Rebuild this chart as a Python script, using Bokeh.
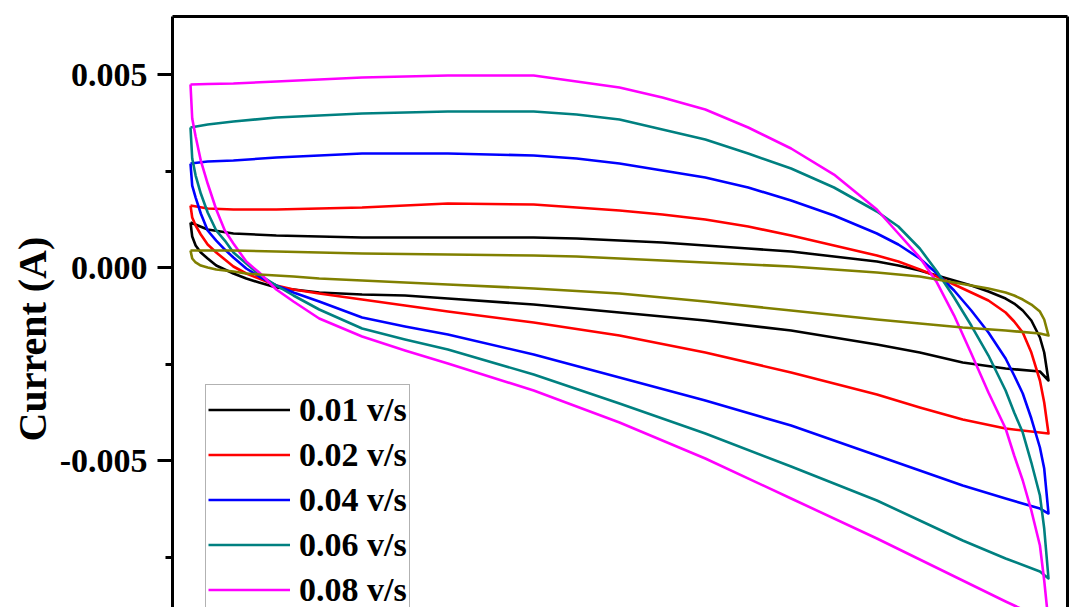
from bokeh.plotting import figure
from bokeh.models import (Range1d, LinearAxis, FixedTicker, NumeralTickFormatter, Legend,
                          LegendItem, Title)
from bokeh.embed import file_html
from bokeh.resources import INLINE

# Potential (V) sampling of the forward (upper) and reverse (lower) branches
potential_up = [0, 0.02, 0.05, 0.1, 0.15, 0.2, 0.3, 0.4, 0.45, 0.5, 0.55, 0.6, 0.65, 0.7, 0.75,
                0.8, 0.825, 0.85, 0.87, 0.89, 0.91, 0.93, 0.95, 0.96, 0.97, 0.98, 0.99, 0.995, 1.0]
potential_down = [1.0, 0.99, 0.95, 0.9, 0.85, 0.8, 0.7, 0.6, 0.5, 0.4, 0.3, 0.25, 0.2, 0.15,
                  0.12, 0.1, 0.08, 0.065, 0.05, 0.04, 0.03, 0.02, 0.012, 0.006, 0.002, 0]

# Currents in mA
up_001 = [1.166, 0.984, 0.881, 0.829, 0.803, 0.777, 0.777, 0.777, 0.751, 0.699, 0.648, 0.570,
          0.492, 0.415, 0.285, 0.155, 0.052, -0.078, -0.207, -0.337, -0.466, -0.622, -0.803,
          -0.933, -1.114, -1.373, -1.813, -2.202, -2.927]
down_001 = [-2.927, -2.694, -2.617, -2.461, -2.202, -1.995, -1.632, -1.373, -1.166, -0.959,
            -0.803, -0.725, -0.699, -0.648, -0.570, -0.518, -0.389, -0.285, -0.155, -0.052,
            0.052, 0.233, 0.389, 0.570, 0.803, 1.166]
up_002 = [1.606, 1.528, 1.503, 1.503, 1.528, 1.554, 1.658, 1.632, 1.554, 1.477, 1.373, 1.244,
          1.062, 0.829, 0.570, 0.311, 0.155, -0.052, -0.233, -0.440, -0.648, -0.855, -1.166,
          -1.399, -1.684, -2.202, -2.927, -3.497, -4.301]
down_002 = [-4.301, -4.275, -4.171, -3.938, -3.627, -3.290, -2.720, -2.202, -1.762, -1.425,
            -1.140, -0.984, -0.829, -0.674, -0.570, -0.466, -0.285, -0.155, 0.026, 0.207,
            0.389, 0.596, 0.855, 1.088, 1.295, 1.606]
up_004 = [2.694, 2.746, 2.772, 2.850, 2.902, 2.953, 2.953, 2.902, 2.824, 2.694, 2.513, 2.332,
          2.073, 1.736, 1.347, 0.881, 0.596, 0.233, -0.155, -0.596, -1.114, -1.684, -2.358,
          -2.798, -3.264, -3.912, -4.663, -5.207, -6.373]
down_004 = [-6.373, -6.244, -5.984, -5.648, -5.259, -4.870, -4.093, -3.446, -2.850, -2.254,
            -1.736, -1.528, -1.295, -0.881, -0.648, -0.466, -0.233, -0.026, 0.259, 0.466,
            0.699, 0.959, 1.399, 1.813, 2.124, 2.694]
up_006 = [3.627, 3.705, 3.782, 3.886, 3.938, 3.990, 4.041, 4.041, 3.964, 3.834, 3.575, 3.316,
          2.953, 2.565, 2.073, 1.451, 1.062, 0.492, -0.104, -0.777, -1.503, -2.280, -3.187,
          -3.756, -4.275, -5.052, -5.907, -6.762, -8.057]
down_006 = [-8.057, -7.876, -7.539, -7.073, -6.554, -6.036, -5.155, -4.301, -3.523, -2.772,
            -2.124, -1.865, -1.580, -1.088, -0.725, -0.466, -0.181, 0.104, 0.389, 0.699,
            0.959, 1.425, 1.917, 2.383, 2.824, 3.627]
up_008 = [4.741, 4.754, 4.767, 4.819, 4.870, 4.922, 4.974, 4.974, 4.819, 4.663, 4.404, 4.093,
          3.627, 3.083, 2.409, 1.503, 0.881, 0.259, -0.389, -1.244, -2.228, -3.238, -4.171,
          -4.870, -5.518, -6.295, -7.202, -8.109, -9.197]
down_008 = [-9.197, -9.067, -8.653, -8.109, -7.565, -7.021, -5.984, -4.948, -4.016, -3.187,
            -2.487, -2.150, -1.788, -1.321, -0.881, -0.570, -0.130, 0.155, 0.622, 0.959,
            1.503, 2.176, 2.772, 3.394, 3.860, 4.741]
up_olive = [0.440, 0.440, 0.440, 0.415, 0.389, 0.363, 0.337, 0.311, 0.285, 0.233, 0.181, 0.130,
            0.078, 0.026, -0.052, -0.130, -0.181, -0.233, -0.311, -0.389, -0.466, -0.544,
            -0.648, -0.725, -0.829, -0.959, -1.140, -1.347, -1.762]
down_olive = [-1.762, -1.710, -1.632, -1.554, -1.451, -1.347, -1.114, -0.881, -0.674, -0.544,
              -0.440, -0.389, -0.337, -0.285, -0.233, -0.207, -0.181, -0.155, -0.104, -0.078,
              -0.052, 0.0, 0.052, 0.130, 0.233, 0.440]

labels = ["0.01 v/s", "0.02 v/s", "0.04 v/s", "0.06 v/s", "0.08 v/s", None]
colors = ["#000000", "#FF0000", "#0000FF", "#008080", "#FF00FF", "#808000"]
ups = [up_001, up_002, up_004, up_006, up_008, up_olive]
downs = [down_001, down_002, down_004, down_006, down_008, down_olive]

y_ticks = [-0.005, 0.0, 0.005]
y_minor = [-0.0075, -0.0025, 0.0025]
y_title = "Current (A)"

FONT = "Liberation Serif"

p = figure(width=1080, height=607, output_backend="svg", toolbar_location=None,
           x_axis_location=None, y_axis_location="left",
           x_range=Range1d(-0.02098, 1.02214), y_range=Range1d(-0.008808, 0.006503),
           min_border_left=172, min_border_right=13, min_border_top=16, min_border_bottom=0)
p.background_fill_color = "white"
p.border_fill_color = "white"
p.outline_line_color = None
p.grid.visible = False

ax = p.yaxis[0]
ax.ticker = FixedTicker(ticks=y_ticks, minor_ticks=y_minor)
ax.formatter = NumeralTickFormatter(format="0.000")
ax.major_label_text_font = FONT
ax.major_label_text_font_style = "bold"
ax.major_label_text_font_size = "34px"
ax.major_label_text_color = "black"
ax.major_label_standoff = 10
ax.axis_line_width = 3
ax.major_tick_line_width = 3
ax.minor_tick_line_width = 3
ax.major_tick_in = 0
ax.major_tick_out = 15
ax.minor_tick_in = 0
ax.minor_tick_out = 7

for loc in ["above", "right"]:
    a = LinearAxis(ticker=FixedTicker(ticks=[]), axis_line_width=3,
                   major_tick_in=0, major_tick_out=0, minor_tick_in=0, minor_tick_out=0,
                   major_label_text_font_size="0px")
    p.add_layout(a, loc)

# y-axis title; the original figure is cropped, so it sits below the visible frame centre
p.add_layout(Title(text=y_title, align="left", offset=166, standoff=4,
                   text_font=FONT, text_font_style="bold", text_font_size="40px",
                   text_color="black"), "left")

items = []
for up, dn, c, lab in zip(ups, downs, colors, labels):
    xs = potential_up + potential_down
    ys = [v / 1000.0 for v in up + dn]
    r = p.line(xs, ys, line_color=c, line_width=2.6, line_join="round")
    if lab:
        items.append(LegendItem(label=lab, renderers=[r]))

leg = Legend(items=items, location=(33, -8), orientation="vertical",
             label_text_font=FONT, label_text_font_style="bold", label_text_font_size="34px",
             label_text_color="black",
             label_height=45, glyph_height=45, glyph_width=82, label_standoff=9,
             spacing=0, padding=2, margin=0,
             border_line_color="#666666", border_line_width=1.5,
             background_fill_color="white", background_fill_alpha=1.0)
p.add_layout(leg, "center")

open("out.html", "w").write(file_html(p, INLINE))
